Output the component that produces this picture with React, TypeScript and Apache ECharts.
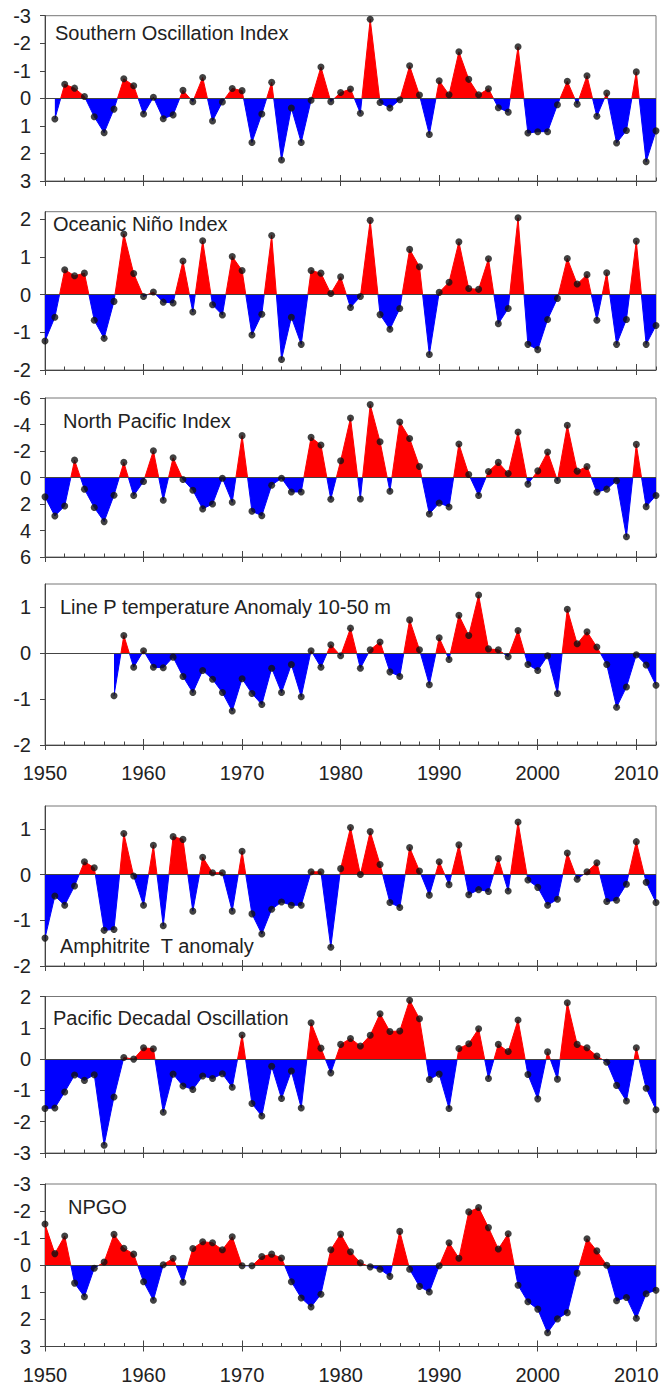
import React, { useEffect, useRef } from "react";
import * as echarts from "echarts";

// ---- data ----
const SOI_START = 1951;
const soi = [
  0.75, -0.51, -0.37, -0.07, 0.67, 1.25, 0.39, -0.71, -0.46, 0.57,
  -0.04, 0.74, 0.6, -0.29, 0.12, -0.76, 0.82, 0.13, -0.36, -0.28,
  1.6, 0.57, -0.58, 2.24, 0.35, 1.6, 0.07, -1.14, 0.12, -0.21,
  -0.34, 0.54, -2.87, 0.15, 0.35, 0.05, -1.18, -0.12, 1.31, -0.64,
  -0.13, -1.69, -0.69, -0.13, -0.35, 0.34, 0.5, -1.87, 1.26, 1.21,
  1.21, 0.23, -0.62, 0.21, -0.82, 0.65, -0.19, 1.62, 1.17, -0.96,
  2.3, 1.18,
];

const ONI_START = 1950;
const oni = [
  -1.23, -0.6, 0.66, 0.5, 0.57, -0.68, -1.16, -0.18, 1.61, 0.56,
  -0.05, 0.07, -0.2, -0.22, 0.89, -0.46, 1.43, -0.27, -0.54, 1.01,
  0.64, -1.07, -0.52, 1.57, -1.72, -0.6, -1.32, 0.64, 0.57, 0.03,
  0.47, -0.34, -0.05, 1.97, -0.53, -0.92, -0.37, 1.2, 0.74, -1.59,
  0.06, 0.33, 1.4, 0.16, 0.14, 0.95, -0.77, -0.37, 2.04, -1.32,
  -1.46, -0.66, -0.1, 0.96, 0.28, 0.53, -0.68, 0.58, -1.32, -0.66,
  1.42, -1.32, -0.82,
];

const NPI_START = 1950;
const npi = [
  1.46, 2.9, 2.15, -1.31, 0.88, 2.27, 3.33, 1.34, -1.14, 1.36,
  0.3, -2.02, 1.72, -1.49, 0.15, 0.96, 2.37, 2.0, 0.05, 1.87,
  -3.16, 2.55, 2.88, 0.58, 0.05, 1.09, 1.09, -3.03, -2.45, 1.64,
  -1.26, -4.49, 1.62, -5.5, -2.7, 1.04, -4.19, -2.95, -0.83, 2.75,
  1.92, 2.22, -2.53, -0.23, 1.36, -0.45, -1.14, -0.3, -3.43, 0.5,
  -0.5, -1.92, 0.23, -3.94, -0.48, -0.83, 1.11, 0.88, 0.25, 4.47,
  -2.5, 2.2, 1.36,
];

const LINEP_START = 1957;
const lineP = [
  -0.93, 0.38, -0.31,
  0.05, -0.31, -0.32, -0.09, -0.51, -0.86, -0.38, -0.57, -0.86, -1.26,
  -0.56, -0.88, -1.12, -0.33, -0.86, -0.25, -0.95, 0.05, -0.31, 0.18,
  -0.06, 0.54, -0.33, 0.07, 0.24, -0.41, -0.51, 0.72, 0.07, -0.69,
  0.33, -0.14, 0.82, 0.38, 1.26, 0.09, 0.07, -0.08, 0.49, -0.25,
  -0.38, -0.06, -0.88, 0.95, 0.2, 0.46, 0.13, -0.25, -1.18, -0.74,
  -0.04, -0.26, -0.7,
];

const AMPH_START = 1950;
const amphitrite = [
  -1.39, -0.47, -0.67, -0.25, 0.28, 0.15, -1.22, -1.2, 0.9, -0.03,
  -0.67, 0.64, -1.12, 0.83, 0.77, -0.8, 0.38, 0.04, 0.04, -0.8,
  0.51, -0.86, -1.3, -0.76, -0.6, -0.67, -0.67, 0.06, 0.06, -1.59,
  0.13, 1.03, 0.0, 0.94, 0.22, -0.61, -0.72, 0.59, 0.08, -0.45,
  0.28, -0.22, 0.65, -0.44, -0.33, -0.37, 0.35, -0.36, 1.15, -0.12,
  -0.28, -0.67, -0.54, 0.47, -0.1, 0.06, 0.26, -0.59, -0.56, -0.21,
  0.72, -0.17, -0.61,
];

const PDO_START = 1950;
const pdo = [
  -1.58, -1.56, -1.05, -0.51, -0.68, -0.5, -2.75, -1.21, 0.05, 0.0,
  0.36, 0.33, -1.7, -0.48, -0.86, -0.97, -0.54, -0.62, -0.47, -0.9,
  0.77, -1.42, -1.82, -0.23, -1.26, -0.38, -1.56, 1.16, 0.35, -0.44,
  0.47, 0.66, 0.42, 0.76, 1.45, 0.88, 0.9, 1.88, 1.29, -0.65,
  -0.48, -1.58, 0.34, 0.49, 0.97, -0.62, 0.47, 0.24, 1.25, -0.49,
  -1.27, 0.23, -0.64, 1.8, 0.47, 0.36, 0.1, -0.1, -0.84, -1.34,
  0.36, -0.93, -1.62,
];

const NPGO_START = 1950;
const npgo = [
  -1.52, -0.43, -1.08, 0.66, 1.16, 0.11, -0.12, -1.14, -0.63, -0.41,
  0.61, 1.29, -0.02, -0.26, 0.63, -0.62, -0.87, -0.83, -0.57, -1.05,
  0.02, 0.02, -0.32, -0.41, -0.27, 0.61, 1.21, 1.54, 1.07, -0.57,
  -1.15, -0.5, -0.09, 0.06, 0.15, 0.41, -1.25, 0.15, 0.78, 0.99,
  0.02, -0.83, -0.26, -1.97, -2.13, -1.39, -0.6, -1.16, 0.74, 1.35,
  1.62, 2.49, 1.98, 1.75, 0.29, -0.98, -0.53, 0.0, 1.31, 1.19,
  1.96, 1.05, 0.92,
];

const TITLES = [
  "Southern Oscillation Index",
  "Oceanic Niño Index",
  "North Pacific Index",
  "Line P temperature Anomaly 10-50 m",
  "Amphitrite  T anomaly",
  "Pacific Decadal Oscillation",
  "NPGO",
];

const DECADE_TICKS = [1950, 1960, 1970, 1980, 1990, 2000, 2010];
const TICKS_SOI = [-3, -2, -1, 0, 1, 2, 3];
const TICKS_ONI = [-2, -1, 0, 1, 2];
const TICKS_NPI = [-6, -4, -2, 0, 2, 4, 6];
const TICKS_LINEP = [-2, -1, 0, 1];
const TICKS_AMPH = [-2, -1, 0, 1];
const TICKS_PDO = [-3, -2, -1, 0, 1, 2];
const TICKS_NPGO = [-3, -2, -1, 0, 1, 2, 3];

const RED = "#ff0000";
const BLUE = "#0000ff";
const FONT = "'Liberation Sans', Arial, sans-serif";
const TEXT = "#222";
const AXIS = "#444";

type Panel = {
  title: string;
  start: number;
  values: number[];
  inverse: boolean;
  min: number;
  max: number;
  ticks: number[];
  top: number;
  bottom: number;
  xLabels: boolean;
  titleX: number;
  titleY: number;
};

const PANELS: Panel[] = [
  { title: TITLES[0], start: SOI_START, values: soi, inverse: true, min: -3, max: 3, ticks: TICKS_SOI, top: 15.7, bottom: 181, xLabels: false, titleX: 55, titleY: 23 },
  { title: TITLES[1], start: ONI_START, values: oni, inverse: false, min: -2, max: 2.2, ticks: TICKS_ONI, top: 211.7, bottom: 370, xLabels: false, titleX: 53, titleY: 214 },
  { title: TITLES[2], start: NPI_START, values: npi, inverse: true, min: -6, max: 6, ticks: TICKS_NPI, top: 398, bottom: 557, xLabels: false, titleX: 63, titleY: 411 },
  { title: TITLES[3], start: LINEP_START, values: lineP, inverse: false, min: -2, max: 1.5, ticks: TICKS_LINEP, top: 584, bottom: 745, xLabels: true, titleX: 60, titleY: 597 },
  { title: TITLES[4], start: AMPH_START, values: amphitrite, inverse: false, min: -2, max: 1.5, ticks: TICKS_AMPH, top: 806, bottom: 966, xLabels: false, titleX: 60, titleY: 936 },
  { title: TITLES[5], start: PDO_START, values: pdo, inverse: false, min: -3, max: 2, ticks: TICKS_PDO, top: 996.5, bottom: 1153, xLabels: false, titleX: 53, titleY: 1008 },
  { title: TITLES[6], start: NPGO_START, values: npgo, inverse: true, min: -3, max: 3, ticks: TICKS_NPGO, top: 1184, bottom: 1346.5, xLabels: true, titleX: 68, titleY: 1197 },
];

const W = 669;
const H = 1386;
const LEFT = 45;
const RIGHT = 13;

function buildOption() {
  const grid: any[] = [];
  const xAxis: any[] = [];
  const yAxis: any[] = [];
  const series: any[] = [];
  const visualMap: any[] = [];
  const title: any[] = [];

  PANELS.forEach((p, i) => {
    grid.push({
      left: LEFT,
      right: RIGHT,
      top: p.top,
      height: p.bottom - p.top,
      show: true,
      borderColor: "#777",
      borderWidth: 1,
      backgroundColor: "transparent",
      containLabel: false,
      outerBoundsMode: "none",
    });
    const baseX = {
      gridIndex: i,
      type: "value",
      min: 1950,
      max: 2012,
      position: "bottom",
      splitLine: { show: false },
      minorSplitLine: { show: false },
    };
    xAxis.push({
      ...baseX,
      axisLine: { show: true, onZero: false, lineStyle: { color: AXIS, width: 1 } },
      axisTick: { show: true, inside: true, length: 6, customValues: DECADE_TICKS, lineStyle: { color: AXIS, width: 1 } },
      axisLabel: {
        show: p.xLabels,
        customValues: DECADE_TICKS,
        formatter: (v: number) => String(v),
        margin: 18,
        fontSize: 20,
        color: TEXT,
        fontFamily: FONT,
      },
    });
    xAxis.push({
      ...baseX,
      axisLine: { show: false, onZero: false },
      axisTick: { show: true, inside: false, length: 5, customValues: DECADE_TICKS, lineStyle: { color: AXIS, width: 1 } },
      axisLabel: { show: false },
    });
    xAxis.push({
      ...baseX,
      interval: 2,
      axisLine: { show: false, onZero: false },
      axisTick: { show: true, inside: true, length: 3.5, lineStyle: { color: AXIS, width: 1 } },
      axisLabel: { show: false },
    });

    yAxis.push({
      gridIndex: i,
      type: "value",
      inverse: p.inverse,
      min: p.min,
      max: p.max,
      axisLine: { show: true, onZero: false, lineStyle: { color: AXIS, width: 1 } },
      axisTick: { show: true, inside: false, length: 5, customValues: p.ticks, lineStyle: { color: AXIS, width: 1 } },
      axisLabel: {
        customValues: p.ticks,
        formatter: (v: number) => String(v),
        margin: 14,
        fontSize: 20,
        color: TEXT,
        fontFamily: FONT,
      },
      splitLine: { show: false },
    });

    const pts = p.values.map((v, k) => [p.start + k, v]);

    const areaIndex = series.length;
    series.push({
      type: "line",
      xAxisIndex: i * 3,
      yAxisIndex: i,
      data: pts,
      symbol: "none",
      showSymbol: false,
      silent: true,
      lineStyle: { width: 1 },
      areaStyle: { opacity: 1 },
      z: 2,
      markLine: {
        silent: true,
        symbol: ["none", "none"],
        label: { show: false },
        lineStyle: { color: AXIS, width: 1, type: "solid" },
        data: [{ yAxis: 0 }],
      },
    });
    series.push({
      type: "scatter",
      xAxisIndex: i * 3,
      yAxisIndex: i,
      data: pts,
      symbol: "circle",
      symbolSize: 7,
      silent: true,
      itemStyle: { color: "#111" },
      z: 5,
    });

    visualMap.push({
      type: "piecewise",
      show: false,
      seriesIndex: areaIndex,
      dimension: 1,
      pieces: p.inverse
        ? [
            { gte: -100, lt: 0, color: RED },
            { gte: 0, lte: 100, color: BLUE },
          ]
        : [
            { gte: -100, lte: 0, color: BLUE },
            { gt: 0, lte: 100, color: RED },
          ],
    });

    title.push({
      text: p.title,
      left: p.titleX,
      top: p.titleY,
      padding: 0,
      textStyle: { fontSize: 20, fontWeight: "normal", color: TEXT, fontFamily: FONT },
    });
  });

  return {
    animation: false,
    backgroundColor: "#ffffff",
    textStyle: { fontFamily: FONT },
    title,
    grid,
    xAxis,
    yAxis,
    visualMap,
    series,
  };
}

export default function App() {
  const ref = useRef<HTMLDivElement>(null);
  useEffect(() => {
    if (!ref.current) return;
    const chart = echarts.init(ref.current, undefined, { renderer: "svg" });
    chart.setOption(buildOption() as any);
    return () => chart.dispose();
  }, []);
  return (
    <div
      ref={ref}
      style={{ position: "absolute", left: 0, top: 0, width: W, height: H, background: "#fff" }}
    />
  );
}
